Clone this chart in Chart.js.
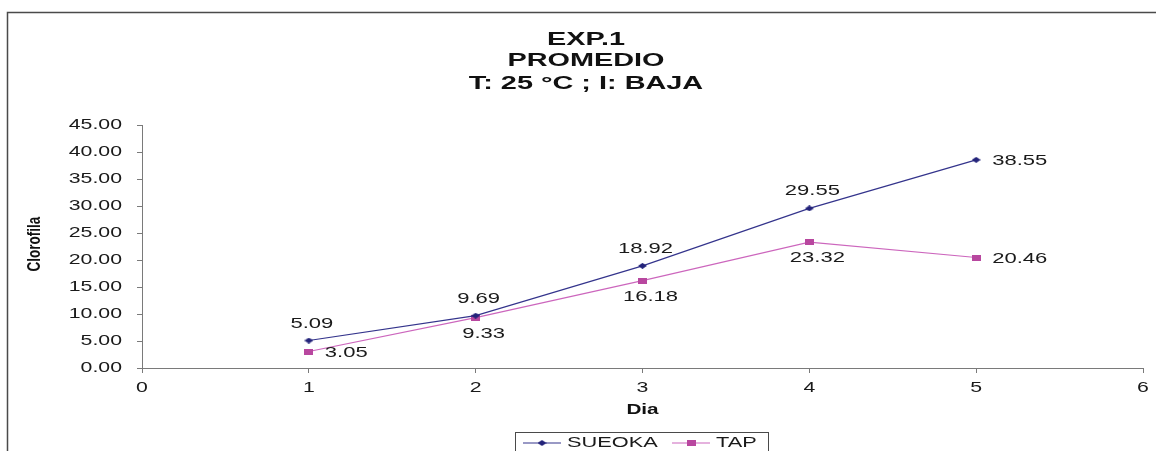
<!DOCTYPE html>
<html>
<head>
<meta charset="utf-8">
<title>EXP.1 PROMEDIO</title>
<script src="https://cdn.jsdelivr.net/npm/chart.js@4/dist/chart.umd.min.js"></script>
<style>
  html, body { margin: 0; padding: 0; background: #fff; }
  canvas { display: block; }
</style>
</head>
<body>
<canvas id="c" width="1156" height="451" style="width:1156px;height:451px"></canvas>
<script>
// ---- data ----
const titleLines = ['EXP.1', 'PROMEDIO', 'T: 25 °C ; I: BAJA'];
const xAxisTitle = 'Dia';
const yAxisTitle = 'Clorofila';
const days = [1, 2, 3, 4, 5];
const sueoka = [5.09, 9.69, 18.92, 29.55, 38.55];
const tap = [3.05, 9.33, 16.18, 23.32, 20.46];
const seriesNames = ['SUEOKA', 'TAP'];

// label placement per point
const sueokaLabelPos = ['above', 'above', 'above', 'above', 'right'];
const tapLabelPos = ['right', 'below', 'below', 'below', 'right'];

// ---- styling ----
const FONT = 'Arial, "Liberation Sans", sans-serif';
const SX = 1.52;              // horizontal stretch applied to all text
const NAVY = '#23237a';
const NAVY_LINE = '#34348c';
const PINK = '#b8479f';
const PINK_LINE = '#cc66bd';
const AXIS = '#7a7a7a';
const TEXT = '#1a1a1a';

function marker(shape, w, h, color) {
  const cv = document.createElement('canvas');
  cv.width = w; cv.height = h;
  const g = cv.getContext('2d');
  g.fillStyle = color;
  if (shape === 'diamond') {
    g.beginPath();
    g.moveTo(0, h / 2); g.lineTo(w / 2, 0); g.lineTo(w, h / 2); g.lineTo(w / 2, h);
    g.closePath(); g.fill();
  } else {
    g.fillRect(0, 0, w, h);
  }
  return cv;
}
const diamondMark = marker('diamond', 9, 6, NAVY);
const squareMark = marker('square', 9, 6, PINK);

function text(ctx, str, x, y, align, font, color, sx) {
  ctx.save();
  ctx.translate(x, y);
  ctx.scale(sx, 1);
  ctx.font = font;
  ctx.fillStyle = color;
  ctx.textAlign = align;
  ctx.textBaseline = 'middle';
  ctx.fillText(str, 0, 0);
  ctx.restore();
}

// frame, titles, tick labels, data labels and legend
const decor = {
  id: 'decor',
  beforeDraw(chart) {
    const ctx = chart.ctx;
    ctx.save();
    ctx.fillStyle = '#fff';
    ctx.fillRect(0, 0, chart.width, chart.height);
    ctx.strokeStyle = '#4a4a4a';
    ctx.lineWidth = 1.5;
    ctx.strokeRect(7.5, 12.5, chart.width + 20, chart.height + 20);
    ctx.restore();
  },
  afterDraw(chart) {
    const ctx = chart.ctx;
    const area = chart.chartArea;
    const xs = chart.scales.x, ys = chart.scales.y;

    // title
    const titleY = [39.5, 61, 83.5];
    titleLines.forEach((t, i) => text(ctx, t, 586, titleY[i], 'center', 'bold 18.5px ' + FONT, '#111', 1.56));

    // y tick labels
    ys.ticks.forEach(t => {
      text(ctx, t.value.toFixed(2), area.left - 20, ys.getPixelForValue(t.value), 'right', '14px ' + FONT, TEXT, SX);
    });
    // x tick labels
    xs.ticks.forEach(t => {
      text(ctx, String(t.value), xs.getPixelForValue(t.value), area.bottom + 20, 'center', '14px ' + FONT, TEXT, SX);
    });

    // axis titles
    text(ctx, xAxisTitle, (area.left + area.right) / 2, 410, 'center', 'bold 14px ' + FONT, '#111', 1.48);
    ctx.save();
    ctx.translate(35, 244);
    ctx.rotate(-Math.PI / 2);
    ctx.scale(1, 1.35);
    ctx.font = 'bold 13.5px ' + FONT;
    ctx.fillStyle = '#111';
    ctx.textAlign = 'center';
    ctx.textBaseline = 'middle';
    ctx.fillText(yAxisTitle, 0, 0);
    ctx.restore();

    // data labels
    const placements = [sueokaLabelPos, tapLabelPos];
    const lf = '14.5px ' + FONT;
    chart.data.datasets.forEach((ds, di) => {
      const meta = chart.getDatasetMeta(di);
      meta.data.forEach((pt, i) => {
        const v = ds.data[i].y.toFixed(2);
        const p = placements[di][i];
        if (p === 'above') text(ctx, v, pt.x + 3, pt.y - 17, 'center', lf, TEXT, SX);
        else if (p === 'below') text(ctx, v, pt.x + 8, pt.y + 16, 'center', lf, TEXT, SX);
        else text(ctx, v, pt.x + 16, pt.y + 1, 'left', lf, TEXT, SX);
      });
    });

    // legend
    ctx.save();
    ctx.strokeStyle = '#4a4a4a';
    ctx.lineWidth = 1;
    ctx.strokeRect(515.5, 432.5, 253, 40);
    const items = [
      { x: 523, color: NAVY_LINE, mark: diamondMark },
      { x: 672, color: PINK_LINE, mark: squareMark }
    ];
    const ly = 443;
    items.forEach((it, i) => {
      ctx.strokeStyle = it.color;
      ctx.lineWidth = 1.2;
      ctx.beginPath();
      ctx.moveTo(it.x, ly); ctx.lineTo(it.x + 38, ly);
      ctx.stroke();
      ctx.drawImage(it.mark, it.x + 19 - it.mark.width / 2, ly - it.mark.height / 2);
      text(ctx, seriesNames[i], it.x + 44, ly, 'left', '14.5px ' + FONT, TEXT, 1.5);
    });
    ctx.restore();
  }
};

const toPoints = arr => days.map((d, i) => ({ x: d, y: arr[i] }));

new Chart(document.getElementById('c'), {
  type: 'line',
  data: {
    datasets: [
      {
        label: seriesNames[0],
        data: toPoints(sueoka),
        borderColor: NAVY_LINE,
        borderWidth: 1.2,
        pointStyle: diamondMark,
        pointRadius: 5,
        tension: 0
      },
      {
        label: seriesNames[1],
        data: toPoints(tap),
        borderColor: PINK_LINE,
        borderWidth: 1.2,
        pointStyle: squareMark,
        pointRadius: 5,
        tension: 0
      }
    ]
  },
  options: {
    responsive: false,
    animation: false,
    devicePixelRatio: 1,
    layout: { autoPadding: false, padding: { left: 137, right: 13, top: 125, bottom: 78 } },
    plugins: { legend: { display: false }, title: { display: false }, tooltip: { enabled: false } },
    scales: {
      x: {
        type: 'linear',
        min: 0, max: 6,
        ticks: { display: false, stepSize: 1 },
        grid: { drawOnChartArea: false, drawTicks: true, tickLength: 5, color: AXIS, lineWidth: 1 },
        border: { display: true, color: AXIS, width: 1 },
        afterFit: s => { s.height = 5; }
      },
      y: {
        min: 0, max: 45,
        ticks: { display: false, stepSize: 5 },
        grid: { drawOnChartArea: false, drawTicks: true, tickLength: 5, color: AXIS, lineWidth: 1 },
        border: { display: true, color: AXIS, width: 1 },
        afterFit: s => { s.width = 5; }
      }
    }
  },
  plugins: [decor]
});
</script>
</body>
</html>
